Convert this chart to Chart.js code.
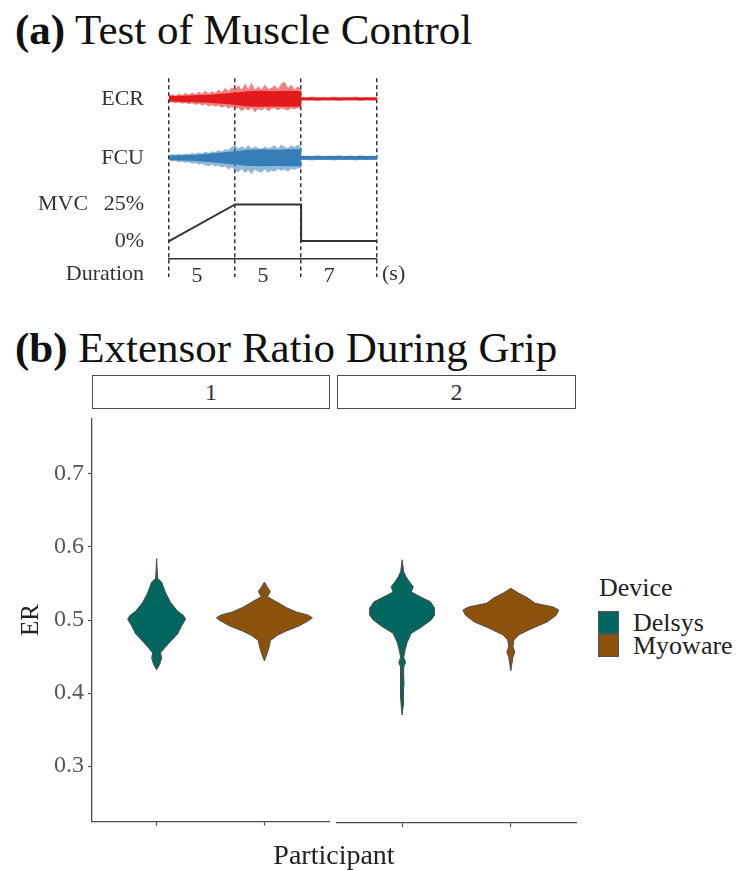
<!DOCTYPE html>
<html>
<head>
<meta charset="utf-8">
<script src="https://cdn.jsdelivr.net/npm/chart.js@4.4.1/dist/chart.umd.min.js"></script>
<style>
  body { margin: 0; background: #fff; }
  #page { position: relative; width: 737px; height: 870px; font-family: "Liberation Serif", "DejaVu Serif", serif; color: #222; overflow: hidden; }
  .txt { position: absolute; line-height: 1; white-space: nowrap; }
  .title { font-size: 43px; color: #111; }
  .strip { position: absolute; top: 375px; height: 34px; border: 1.3px solid #4d4d4d; box-sizing: border-box;
           font-size: 24px; color: #333; text-align: center; line-height: 32px; background: #fff; }
  .key { position: absolute; left: 598px; width: 21px; height: 23px; border: 1px solid #555; box-sizing: border-box; }
  canvas { position: absolute; }
</style>
</head>
<body>
<div id="page">
  <div class="txt title" style="left:15px; top:8px"><b>(a)</b> Test of Muscle Control</div>
  <canvas id="chartA" width="430" height="260" style="left:0; top:40px"></canvas>

  <div class="txt title" style="left:15px; top:326px"><b>(b)</b> Extensor Ratio During Grip</div>
  <div class="strip" style="left:92px; width:238px">1</div>
  <div class="strip" style="left:337px; width:239px">2</div>
  <canvas id="chartB1" width="335" height="440" style="left:0; top:400px"></canvas>
  <canvas id="chartB2" width="247" height="440" style="left:333px; top:400px"></canvas>
  <div class="txt" style="left:334px; top:841px; font-size:28px; transform:translateX(-50%)">Participant</div>

  <div class="txt" style="left:599px; top:575px; font-size:26px">Device</div>
  <div class="key" style="top:611px; background:#01665e"></div>
  <div class="key" style="top:634px; background:#8c510a"></div>
  <div class="txt" style="left:633px; top:610px; font-size:26px">Delsys</div>
  <div class="txt" style="left:633px; top:633px; font-size:26px">Myoware</div>
</div>

<script>
// ---------- (a) protocol schematic ----------
const phaseEdges = [0, 5, 10, 17];          // seconds
const phaseDurations = ['5', '5', '7'];
const mvcTime = [0, 5, 10, 10, 17];
const mvcLevel = [0, 25, 25, 0, 0];         // % MVC
const mvcTicks = [0, 25];

// EMG envelopes (a.u., distance from the trace baseline)
const emgTime = [0, 0.25, 0.5, 0.75, 1, 1.25, 1.5, 1.75, 2, 2.25, 2.5, 2.75, 3, 3.25, 3.5, 3.75, 4, 4.25, 4.5, 4.75,
  5, 5.25, 5.5, 5.75, 6, 6.25, 6.5, 6.75, 7, 7.25, 7.5, 7.75, 8, 8.25, 8.5, 8.75, 9, 9.25, 9.5, 9.75, 10,
  10, 10.5, 11, 11.5, 12, 12.5, 13, 13.5, 14, 14.5, 15, 15.5, 16, 16.5, 17];
const ecrUpper = [4, 5, 3.5, 6, 4, 6.5, 4.5, 7, 5, 8, 5.5, 9, 6, 8.5, 6.5, 10, 7.5, 12, 8.5, 13,
  10, 15, 10, 17, 11, 18, 10.5, 14, 10, 16, 11, 12, 15, 11, 17, 19, 12, 16, 10.5, 14, 10,
  2, 1.5, 2.5, 1.5, 2, 1.5, 2.5, 1.5, 2, 1.5, 2.5, 1.5, 2, 1.5, 2];
const ecrLower = [4, 3.5, 5, 4, 5.5, 4.5, 6, 5, 7, 5.5, 7.5, 6, 8.5, 7, 9, 7.5, 10, 8, 11, 9,
  11, 10, 14, 10.5, 13, 10, 15, 11, 13, 10, 14, 11, 10.5, 13, 10.5, 12, 13, 10.5, 12, 10, 11,
  1.5, 2, 1.5, 2.5, 1.5, 2, 1.5, 2.5, 1.5, 2, 1.5, 2.5, 1.5, 2, 1.5];
const fcuUpper = [3, 4, 3.5, 4.5, 3.5, 5, 4, 5.5, 4.5, 6, 5, 7, 5.5, 7.5, 6.5, 8.5, 7, 9.5, 9, 12,
  14, 10.5, 13, 11, 14, 10.5, 13, 11, 10, 13, 10.5, 12, 14, 10.5, 15, 12, 11, 14, 12, 15, 12,
  2, 2.5, 2, 3, 2, 2.5, 2, 3, 2, 2.5, 2, 3, 2, 2.5, 2];
const fcuLower = [3, 4, 3.5, 5, 4, 5.5, 5, 6.5, 5.5, 7.5, 6.5, 8.5, 9, 7.5, 10, 8.5, 11, 9.5, 13, 10.5,
  14, 16, 12.5, 17, 14, 18, 13, 15.5, 16.5, 13, 17, 14, 15.5, 12.5, 14.5, 13, 15.5, 12.5, 13.5, 11.5, 12,
  2.5, 2, 3, 2, 2.5, 2, 3, 2, 2.5, 2, 3, 2, 2.5, 2, 2.5];
const coreTime = [0, 1, 2, 3, 4, 5, 6, 7, 8, 9, 10, 10, 17];
const ecrCore = [3, 3.5, 4, 4.5, 5.5, 7, 8.5, 9, 8.5, 9, 8.5, 1.5, 1.5];
const fcuCore = [2.5, 3, 3.5, 4.5, 6, 7.5, 9, 9.5, 9, 9.5, 9.5, 2, 2];

// ---------- (b) extensor ratio violins ----------
const erTicks = [0.3, 0.4, 0.5, 0.6, 0.7];
const devices = ['Delsys', 'Myoware'];
// ER level and violin half width (in category units)
const p1DelsysER = [0.432, 0.439, 0.448, 0.455, 0.461, 0.471, 0.481, 0.492, 0.501, 0.506, 0.512, 0.524, 0.537, 0.552, 0.557, 0.584];
const p1DelsysW  = [0, 0.028, 0.046, 0.037, 0.07, 0.13, 0.195, 0.232, 0.269, 0.25, 0.195, 0.13, 0.084, 0.046, 0.009, 0];
const p1MyowareER = [0.444, 0.455, 0.464, 0.472, 0.479, 0.485, 0.492, 0.499, 0.503, 0.507, 0.511, 0.517, 0.525, 0.532, 0.539, 0.545, 0.552];
const p1MyowareW  = [0, 0.028, 0.046, 0.056, 0.121, 0.204, 0.325, 0.409, 0.446, 0.40, 0.297, 0.204, 0.111, 0.028, 0.056, 0.028, 0];
const p2DelsysER = [0.368, 0.38, 0.39, 0.40, 0.41, 0.42, 0.432, 0.438, 0.445, 0.455, 0.465, 0.477, 0.485, 0.495, 0.501, 0.511, 0.519, 0.525, 0.532, 0.539, 0.545, 0.552, 0.559, 0.575];
const p2DelsysW  = [0, 0.009, 0.013, 0.011, 0.017, 0.014, 0.014, 0.032, 0.014, 0.028, 0.046, 0.084, 0.176, 0.269, 0.297, 0.297, 0.26, 0.176, 0.084, 0.102, 0.07, 0.037, 0.014, 0];
const p2MyowareER = [0.427, 0.445, 0.452, 0.459, 0.468, 0.475, 0.484, 0.492, 0.501, 0.508, 0.512, 0.517, 0.524, 0.531, 0.537];
const p2MyowareW  = [0, 0.019, 0.037, 0.019, 0.028, 0.074, 0.204, 0.334, 0.418, 0.441, 0.39, 0.223, 0.158, 0.065, 0];

const FONT = '"Liberation Serif", "DejaVu Serif", serif';
Chart.defaults.font.family = FONT;
Chart.defaults.animation = false;
Chart.defaults.events = [];
Chart.defaults.plugins.legend.display = false;
Chart.defaults.plugins.tooltip.enabled = false;

// rest phase is drawn shorter than the others in the figure
const restScale = 0.82;
const xPos = t => t <= 10 ? t : 10 + (t - 10) * restScale;
const ecrBase = 179, fcuBase = 113;   // trace baselines on the hidden emg axis

function band(time, upper, lower, base) {
  const pts = time.map((t, i) => ({x: xPos(t), y: base + upper[i]}));
  for (let i = time.length - 1; i >= 0; i--) pts.push({x: xPos(time[i]), y: base - lower[i]});
  pts.push(pts[0]);
  return pts;
}
function area(points, color) {
  return {data: points, yAxisID: 'yEmg', showLine: true, fill: 'shape', backgroundColor: color,
          borderColor: 'transparent', borderWidth: 0, pointRadius: 0};
}

const rowLabels = {
  id: 'rowLabels',
  afterDraw(chart) {
    const {ctx, scales: {x, y, yEmg}} = chart;
    ctx.save();
    ctx.font = '22px ' + FONT;
    ctx.fillStyle = '#333';
    ctx.textBaseline = 'middle';
    ctx.textAlign = 'right';
    ctx.fillText('ECR', 144, yEmg.getPixelForValue(ecrBase));
    ctx.fillText('FCU', 144, yEmg.getPixelForValue(fcuBase));
    ctx.fillText('Duration', 144, x.top + 15);
    ctx.textAlign = 'left';
    ctx.fillText('MVC', 38, y.getPixelForValue(25));
    ctx.fillText('(s)', x.getPixelForValue(xPos(17)) + 5, x.top + 15);
    ctx.restore();
  }
};

new Chart(document.getElementById('chartA'), {
  type: 'scatter',
  data: {
    datasets: [
      area(band(emgTime, ecrUpper, ecrLower, ecrBase), 'rgba(228,26,28,0.55)'),
      area(band(coreTime, ecrCore, ecrCore, ecrBase), '#e41a1c'),
      area(band(emgTime, fcuUpper, fcuLower, fcuBase), 'rgba(55,126,184,0.55)'),
      area(band(coreTime, fcuCore, fcuCore, fcuBase), '#377eb8'),
      {data: mvcTime.map((t, i) => ({x: xPos(t), y: mvcLevel[i]})), yAxisID: 'y', showLine: true,
       borderColor: '#333', borderWidth: 2, pointRadius: 0, fill: false}
    ]
  },
  options: {
    responsive: false,
    layout: {padding: {left: 0, top: 17, right: 53, bottom: 0}},
    scales: {
      x: {
        type: 'linear', min: 0, max: xPos(17), z: 1,
        afterBuildTicks: s => { s.ticks = phaseEdges.map(t => ({value: xPos(t)})); },
        afterFit: s => { s.height = 41; },
        grid: {color: '#333', lineWidth: 1.5, tickLength: 18, tickColor: '#333', tickWidth: 1.5, tickBorderDash: [4, 3]},
        border: {display: true, color: '#333', width: 1.5, dash: [4, 3]},
        ticks: {autoSkip: false, maxRotation: 0, labelOffset: 28, padding: -14, color: '#333',
                font: {size: 22}, callback: (v, i) => phaseDurations[i] || ''}
      },
      y: {
        type: 'linear', position: 'left', min: -12.2, max: 111,
        afterBuildTicks: s => { s.ticks = mvcTicks.map(v => ({value: v})); },
        afterFit: s => { s.width = 169; },
        grid: {display: false, drawTicks: false},
        border: {display: false},
        ticks: {padding: 25, color: '#333', font: {size: 22}, callback: v => v + '%'}
      },
      yEmg: {type: 'linear', display: false, min: 0, max: 202}
    }
  },
  plugins: [rowLabels]
});

// ---------- (b) ----------
const deviceColors = ['#01665e', '#8c510a'];

function violin(er, w, cx) {
  const right = er.map((v, i) => ({x: cx + w[i], y: v}));
  const left = er.map((v, i) => ({x: cx - w[i], y: v})).reverse();
  return right.concat(left);
}
function violinSet(er, w, slot) {
  return {label: devices[slot - 1], data: violin(er, w, slot), showLine: true, fill: 'shape',
          backgroundColor: deviceColors[slot - 1], borderColor: '#4d4d4d', borderWidth: 1,
          pointRadius: 0, tension: 0};
}

function xScale() {
  return {
    type: 'linear', min: 0.4, max: 2.6,
    afterBuildTicks: s => { s.ticks = [1, 2].map(v => ({value: v})); },
    afterFit: s => { s.height = 17; },
    grid: {drawOnChartArea: false, tickLength: 4, tickColor: '#4d4d4d', tickWidth: 1.2},
    border: {color: '#4d4d4d', width: 1.3},
    ticks: {display: false}
  };
}

new Chart(document.getElementById('chartB1'), {
  type: 'scatter',
  data: {datasets: [violinSet(p1DelsysER, p1DelsysW, 1), violinSet(p1MyowareER, p1MyowareW, 2)]},
  options: {
    responsive: false,
    layout: {padding: {left: 0, top: 9, right: 6, bottom: 0}},
    scales: {
      x: xScale(),
      y: {
        min: 0.224, max: 0.776,
        afterBuildTicks: s => { s.ticks = erTicks.map(v => ({value: v})); },
        afterFit: s => { s.width = 92; },
        grid: {drawOnChartArea: false, tickLength: 4, tickColor: '#4d4d4d', tickWidth: 1.2},
        border: {color: '#4d4d4d', width: 1.3},
        ticks: {padding: 4, color: '#555', font: {size: 24}, callback: v => v.toFixed(1)},
        title: {display: true, text: 'ER', color: '#222', font: {size: 25}, padding: {top: 16}}
      }
    }
  }
});

new Chart(document.getElementById('chartB2'), {
  type: 'scatter',
  data: {datasets: [violinSet(p2DelsysER, p2DelsysW, 1), violinSet(p2MyowareER, p2MyowareW, 2)]},
  options: {
    responsive: false,
    layout: {padding: {left: 4, top: 9, right: 4, bottom: 0}},
    scales: {
      x: xScale(),
      y: {display: false, min: 0.224, max: 0.776}
    }
  }
});
</script>
</body>
</html>
